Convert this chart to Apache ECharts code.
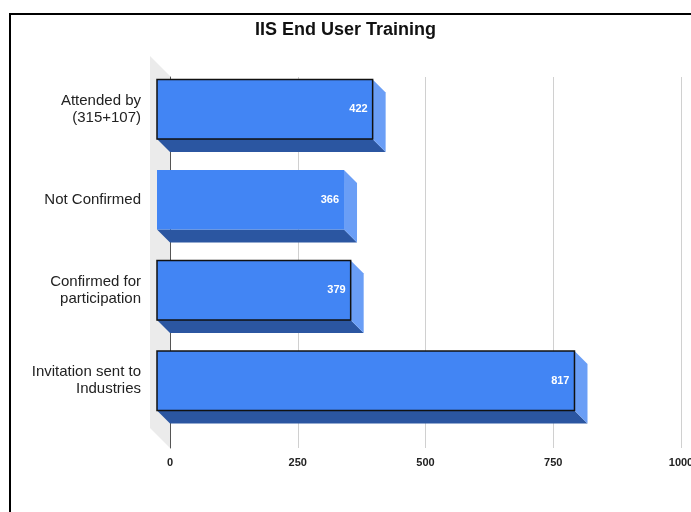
<!DOCTYPE html>
<html>
<head>
<meta charset="utf-8">
<script src="https://cdn.jsdelivr.net/npm/echarts@6/dist/echarts.min.js"></script>
<style>
  html, body { margin: 0; padding: 0; background: #fff; }
  #chart { width: 691px; height: 512px; }
</style>
</head>
<body>
<div id="chart"></div>
<script>
// chart data
var categories = ["Attended by\n(315+107)", "Not Confirmed", "Confirmed for\nparticipation", "Invitation sent to\nIndustries"];
var counts = [422, 366, 379, 817];
var xTicks = [0, 250, 500, 750, 1000];

// only some bars got the black outline in the original
var outlinedBars = [true, false, true, true];
var depth = 13; // fake 3d offset

var chart = echarts.init(document.getElementById("chart"));

function renderBar(params, api) {
  var idx = api.value(1);
  var start = api.coord([0, idx]);
  var end = api.coord([api.value(0), idx]);
  var h = api.size([0, 1])[1] * 0.66;
  var x0 = start[0], x1 = end[0];
  var yt = end[1] - h / 2, yb = end[1] + h / 2;
  var d = depth;
  return {
    type: "group",
    children: [
      {
        type: "polygon",
        shape: { points: [[x0, yb], [x1, yb], [x1 + d, yb + d], [x0 + d, yb + d]] },
        style: { fill: "#2b56a1" }
      },
      {
        type: "polygon",
        shape: { points: [[x1, yt], [x1 + d, yt + d], [x1 + d, yb + d], [x1, yb]] },
        style: { fill: "#6a9ef6" }
      },
      {
        type: "rect",
        shape: { x: x0, y: yt, width: x1 - x0, height: h },
        style: {
          fill: "#4285f4",
          stroke: outlinedBars[idx] ? "#111" : null,
          lineWidth: outlinedBars[idx] ? 1.5 : 0
        }
      },
      {
        type: "text",
        style: {
          text: String(api.value(0)),
          x: x1 - 5,
          y: end[1],
          fill: "#fff",
          font: "bold 11px Arial, 'Liberation Sans'",
          align: "right",
          verticalAlign: "middle"
        }
      }
    ]
  };
}

var option = {
  backgroundColor: "#fff",
  animation: false,
  title: {
    text: "IIS End User Training",
    left: "center",
    top: 16,
    textStyle: { fontSize: 18, fontWeight: "bold", color: "#111", fontFamily: "'Liberation Sans Narrow', 'Liberation Sans', Arial" }
  },
  grid: [
    // back plane: gridlines + tick labels
    { left: 170, right: 10, top: 77, bottom: 64, outerBoundsMode: "none", containLabel: false },
    // front plane: bars + category labels
    { left: 157, right: 23, top: 64, height: 362, outerBoundsMode: "none", containLabel: false }
  ],
  xAxis: [
    {
      gridIndex: 0,
      type: "value",
      min: xTicks[0],
      max: xTicks[xTicks.length - 1],
      interval: 250,
      axisLine: { show: false },
      axisTick: { show: false },
      splitLine: { lineStyle: { color: "#d0d0d0", width: 1 } },
      axisLabel: {
        color: "#222",
        fontSize: 11,
        fontWeight: "bold",
        margin: 9,
        fontFamily: "Arial, 'Liberation Sans'",
        formatter: function (v) { return String(v); }
      }
    },
    {
      gridIndex: 1,
      type: "value",
      min: xTicks[0],
      max: xTicks[xTicks.length - 1],
      show: false
    }
  ],
  yAxis: [
    {
      gridIndex: 0,
      type: "value",
      min: 0,
      max: 1,
      axisLabel: { show: false },
      axisTick: { show: false },
      splitLine: { show: false },
      axisLine: { show: true, lineStyle: { color: "#555", width: 1 } }
    },
    {
      gridIndex: 1,
      type: "category",
      inverse: true,
      data: categories,
      axisLine: { show: false },
      axisTick: { show: false },
      axisLabel: {
        color: "#222",
        fontSize: 15,
        lineHeight: 17,
        margin: 16,
        fontFamily: "Arial, 'Liberation Sans'"
      }
    }
  ],
  graphic: [
    {
      // grey left wall of the 3d box
      type: "polygon",
      z: 0,
      shape: { points: [[150, 56], [170, 76], [170, 448], [150, 428]] },
      style: { fill: "#ebebeb" }
    },
    {
      // black frame round the chart
      type: "rect",
      z: 100,
      shape: { x: 10, y: 14, width: 700, height: 520 },
      style: { fill: null, stroke: "#000", lineWidth: 2 }
    }
  ],
  series: [
    {
      type: "custom",
      xAxisIndex: 1,
      yAxisIndex: 1,
      z: 5,
      renderItem: renderBar,
      encode: { x: 0, y: 1 },
      data: counts.map(function (v, i) { return [v, i]; })
    }
  ]
};

chart.setOption(option);
</script>
</body>
</html>
